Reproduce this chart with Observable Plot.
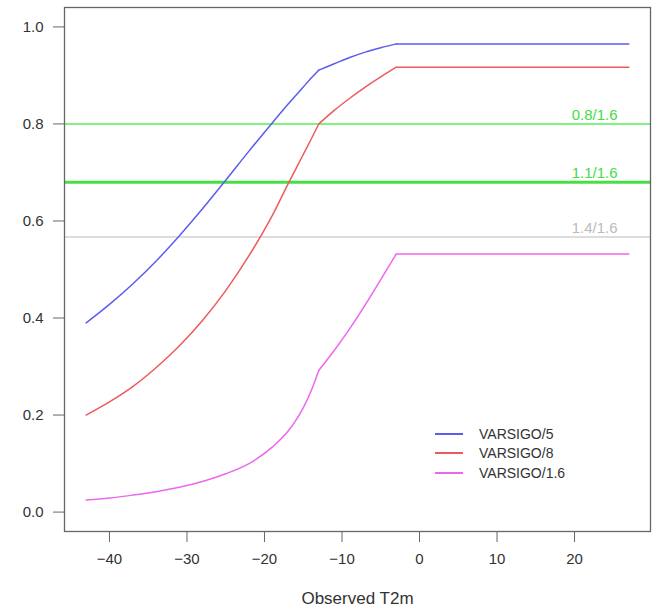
<!DOCTYPE html>
<html>
<head>
<meta charset="utf-8">
<script src="https://cdn.jsdelivr.net/npm/d3@7"></script>
<script src="https://cdn.jsdelivr.net/npm/@observablehq/plot@0.6"></script>
<style>
  html, body { margin: 0; padding: 0; background: #fff; }
  #wrap { position: relative; width: 652px; height: 613px; font-family: "Liberation Sans", Arial, sans-serif; }
  #legend { position: absolute; left: 435px; top: 424px; font-size: 14px; color: #333; }
  .item { display: flex; align-items: center; height: 19.5px; }
  .swatch { width: 28px; height: 0; border-top: 2px solid; margin-right: 16px; }
</style>
</head>
<body>
<div id="wrap"><div id="chart"></div><div id="legend"></div></div>
<script>
// ---- data ----
const temps = [-43,-40,-37,-34,-31,-28,-25,-22,-19,-17,-16,-15,-14,-13,-11,-9,-7,-5,-3,27];
const varsigo5  = [0.390,0.428,0.470,0.517,0.569,0.625,0.684,0.744,0.802,0.840,0.858,0.876,0.894,0.911,0.924,0.937,0.948,0.957,0.965,0.965];
const varsigo8  = [0.200,0.227,0.2585,0.2975,0.3425,0.395,0.4565,0.5285,0.611,0.675,0.706,0.737,0.768,0.800,0.828,0.853,0.876,0.897,0.917,0.917];
const varsigo16 = [0.025,0.029,0.035,0.042,0.051,0.063,0.079,0.100,0.134,0.166,0.188,0.215,0.249,0.292,0.333,0.378,0.427,0.479,0.532,0.532];
const seriesNames = ["VARSIGO/5", "VARSIGO/8", "VARSIGO/1.6"];
const seriesColors = ["#5c5cf0", "#ee5a5a", "#ee66ee"];
const thresholdValues = [0.80, 0.68, 0.567];
const thresholdLabels = ["0.8/1.6", "1.1/1.6", "1.4/1.6"];
const thresholdColors = ["#55ee55", "#44e044", "#dddddd"];
const thresholdLabelColors = ["#44dd44", "#44dd44", "#bbbbbb"];
const thresholdWidths = [1.5, 3, 2];
const xTicks = [-40,-30,-20,-10,0,10,20];
const yTicks = [0,0.2,0.4,0.6,0.8,1.0];
const kneeTemp = -13, flatTemp = -3;

// ---- build table ----
const allSeries = [varsigo5, varsigo8, varsigo16];
const rows = [];
allSeries.forEach((vals, s) => {
  vals.forEach((v, i) => {
    const t = temps[i];
    const segs = [];
    if (t <= kneeTemp) segs.push(0);
    if (t >= kneeTemp && t <= flatTemp) segs.push(1);
    if (t >= flatTemp) segs.push(2);
    segs.forEach(seg => rows.push({x: t, y: v, series: seriesNames[s], seg}));
  });
});
const thresholds = thresholdValues.map((v, i) => ({
  y: v, label: thresholdLabels[i], color: thresholdColors[i],
  labelColor: thresholdLabelColors[i], w: thresholdWidths[i]
}));

const font = '"Liberation Sans", Arial, sans-serif';
const chart = Plot.plot({
  width: 652,
  height: 613,
  marginTop: 7,
  marginLeft: 64,
  marginRight: 2,
  marginBottom: 82,
  style: {fontFamily: font, color: "#333", background: "#fff"},
  x: {domain: [-45.8, 29.8]},
  y: {domain: [-0.04, 1.04]},
  color: {domain: seriesNames, range: seriesColors},
  marks: [
    ...thresholds.map(t => Plot.ruleY([t.y], {stroke: t.color, strokeWidth: t.w})),
    Plot.text(thresholds, {y: "y", text: "label", fill: "labelColor", frameAnchor: "right",
      textAnchor: "end", dx: -33, dy: -9, fontSize: 15}),
    Plot.line(rows.filter(r => r.seg < 2), {x: "x", y: "y", z: d => d.series + d.seg,
      stroke: "series", strokeWidth: 1.5, curve: "monotone-x"}),
    Plot.line(rows.filter(r => r.seg === 2), {x: "x", y: "y", z: "series",
      stroke: "series", strokeWidth: 1.5}),
    Plot.frame({stroke: "#666", strokeWidth: 1.3}),
    Plot.axisX({ticks: xTicks, tickSize: 11, tickPadding: 11, fontSize: 15, label: null,
      stroke: "#666", tickFormat: d => d < 0 ? "\u2212" + Math.abs(d) : String(d)}),
    Plot.axisY({ticks: yTicks, tickSize: 11, tickPadding: 10, fontSize: 15, label: null,
      stroke: "#666", tickFormat: d3.format(".1f")}),
    Plot.text(["Observed T2m"], {frameAnchor: "bottom", dy: 72, fontSize: 17, fill: "#333"})
  ]
});
document.getElementById("chart").appendChild(chart);

const legend = document.getElementById("legend");
seriesNames.forEach((name, i) => {
  const item = document.createElement("div");
  item.className = "item";
  const sw = document.createElement("span");
  sw.className = "swatch";
  sw.style.borderTopColor = seriesColors[i];
  const label = document.createElement("span");
  label.textContent = name;
  item.appendChild(sw);
  item.appendChild(label);
  legend.appendChild(item);
});
</script>
</body>
</html>
